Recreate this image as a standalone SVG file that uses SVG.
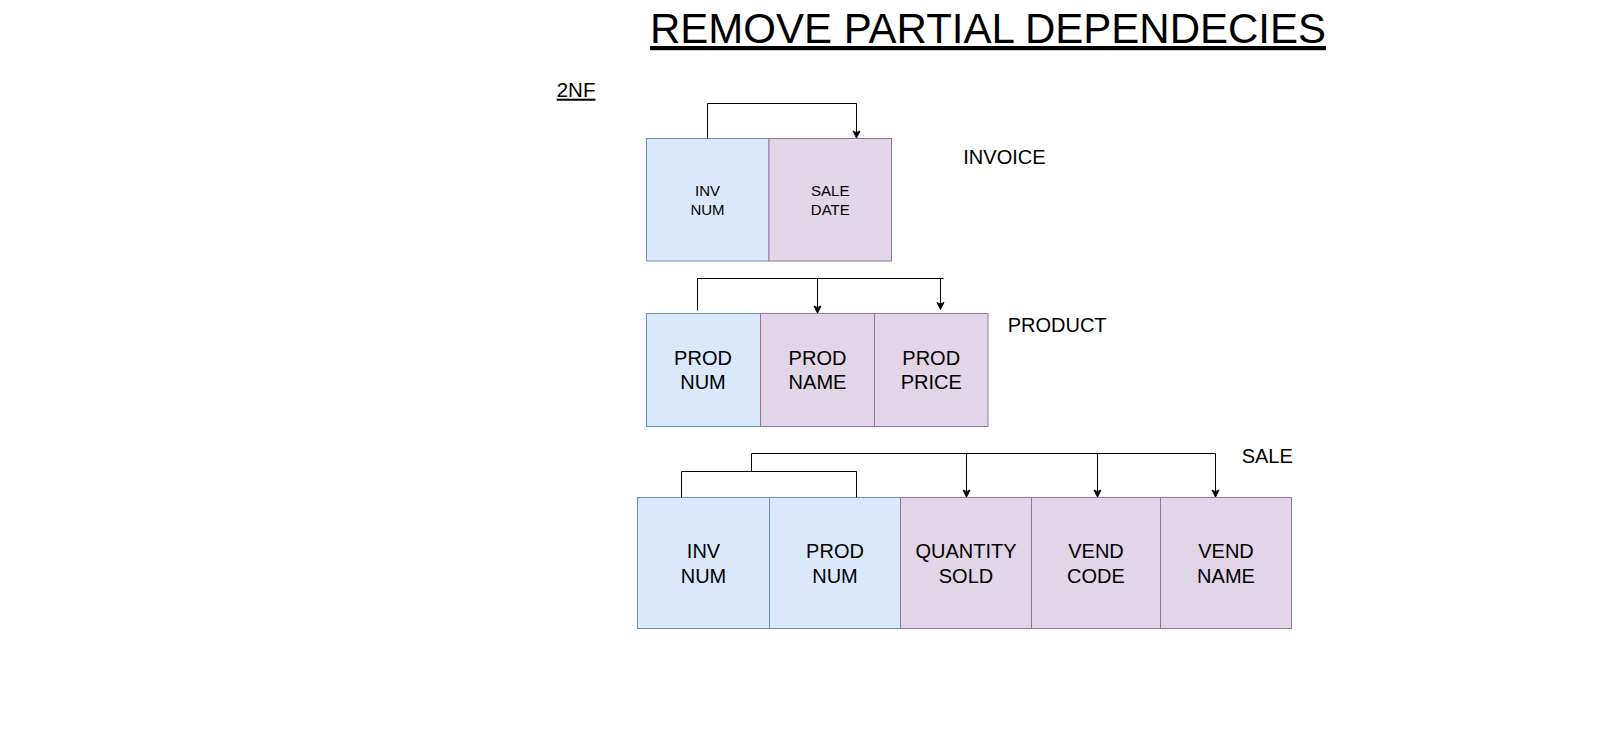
<svg xmlns="http://www.w3.org/2000/svg" width="1624" height="733" viewBox="0 0 1624 733">
<style>
text{font-family:"Liberation Sans",Arial,sans-serif;fill:#000}
.key{fill:#dae8fc;stroke:#6c8ebf;stroke-width:1}
.att{fill:#e1d5e7;stroke:#9673a6;stroke-width:1}
.t20{font-size:20px;text-anchor:middle}
.t15{font-size:15px;text-anchor:middle}
.lbl{font-size:20px}
.edge{fill:none;stroke:#000;stroke-width:1}
</style>
<defs>
<marker id="arr" markerUnits="userSpaceOnUse" markerWidth="10" markerHeight="10" viewBox="0 0 10 10" refX="8" refY="5" orient="auto">
<path d="M1,1.5 L8,5 L1,8.5 L2.7,5 Z" fill="#000" stroke="#000" stroke-width="1"/>
</marker>
</defs>
<rect width="1624" height="733" fill="#fff"/>
<g id="title">
<text x="988" y="43" style="font-size:42px;text-anchor:middle" text-decoration="underline">REMOVE PARTIAL DEPENDECIES</text>
</g>
<g id="label-2nf">
<text x="556.7" y="96.7" style="font-size:20.5px" text-decoration="underline">2NF</text>
</g>
<g id="label-invoice"><text x="963.3" y="164" class="lbl">INVOICE</text></g>
<g id="label-product"><text x="1007.7" y="331.7" class="lbl">PRODUCT</text></g>
<g id="label-sale"><text x="1241.7" y="463.3" class="lbl">SALE</text></g>

<g id="inv-invnum">
<rect class="key" x="646.5" y="138.5" width="122.5" height="122.5"/>
<text class="t15" x="707.5" y="196">INV</text>
<text class="t15" x="707.5" y="215">NUM</text>
</g>
<g id="inv-saledate">
<rect class="att" x="769" y="138.5" width="122.5" height="122.5"/>
<text class="t15" x="830.3" y="196">SALE</text>
<text class="t15" x="830.3" y="215">DATE</text>
</g>

<g id="prod-prodnum">
<rect class="key" x="646.5" y="313.5" width="114" height="113"/>
<text class="t20" x="703" y="365">PROD</text>
<text class="t20" x="703" y="389.3">NUM</text>
</g>
<g id="prod-prodname">
<rect class="att" x="760.5" y="313.5" width="114" height="113"/>
<text class="t20" x="817.5" y="365">PROD</text>
<text class="t20" x="817.5" y="389.3">NAME</text>
</g>
<g id="prod-prodprice">
<rect class="att" x="874.5" y="313.5" width="113.5" height="113"/>
<text class="t20" x="931.2" y="365">PROD</text>
<text class="t20" x="931.2" y="389.3">PRICE</text>
</g>

<g id="sale-invnum">
<rect class="key" x="637.5" y="497.5" width="132" height="131"/>
<text class="t20" x="703.5" y="558">INV</text>
<text class="t20" x="703.5" y="582.5">NUM</text>
</g>
<g id="sale-prodnum">
<rect class="key" x="769.5" y="497.5" width="131" height="131"/>
<text class="t20" x="835" y="558">PROD</text>
<text class="t20" x="835" y="582.5">NUM</text>
</g>
<g id="sale-qty">
<rect class="att" x="900.5" y="497.5" width="131" height="131"/>
<text class="t20" x="966" y="558">QUANTITY</text>
<text class="t20" x="966" y="582.5">SOLD</text>
</g>
<g id="sale-vendcode">
<rect class="att" x="1031.5" y="497.5" width="129" height="131"/>
<text class="t20" x="1096" y="558">VEND</text>
<text class="t20" x="1096" y="582.5">CODE</text>
</g>
<g id="sale-vendname">
<rect class="att" x="1160.5" y="497.5" width="131" height="131"/>
<text class="t20" x="1226" y="558">VEND</text>
<text class="t20" x="1226" y="582.5">NAME</text>
</g>

<g id="connectors">
<path class="edge" d="M707.5,138.5 V103.5 H856.5 V138" marker-end="url(#arr)"/>
<path class="edge" d="M697.5,310.5 V278.5 H943.5"/>
<path class="edge" d="M817.5,278.5 V313" marker-end="url(#arr)"/>
<path class="edge" d="M940.5,278.5 V309.5" marker-end="url(#arr)"/>
<path class="edge" d="M681.5,497.5 V471.5 H856.5 V497.5"/>
<path class="edge" d="M751.5,471.5 V453.5 H1215.5 V497" marker-end="url(#arr)"/>
<path class="edge" d="M966.5,453.5 V497" marker-end="url(#arr)"/>
<path class="edge" d="M1097.5,453.5 V497" marker-end="url(#arr)"/>
</g>
</svg>
